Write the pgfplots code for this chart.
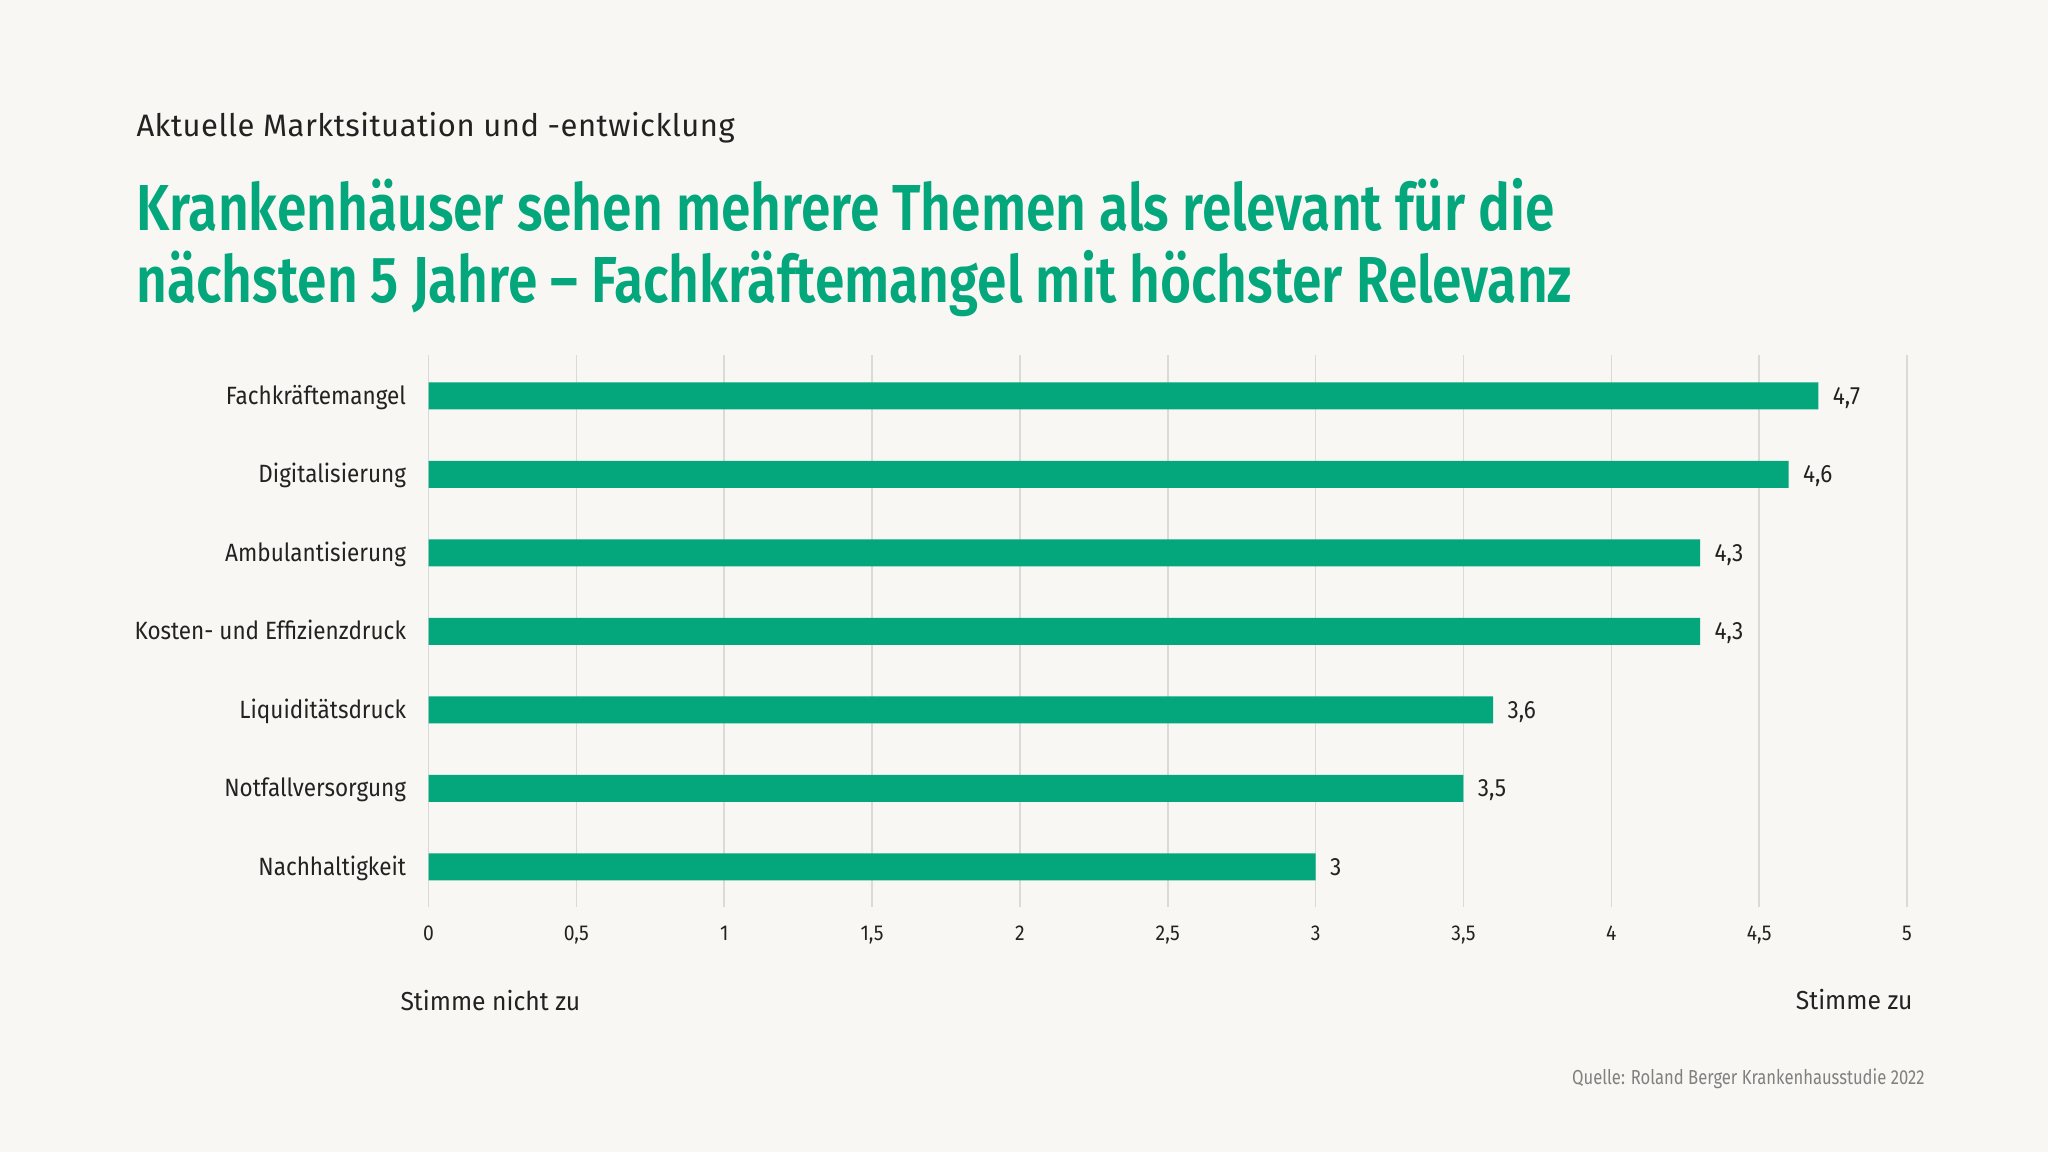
\documentclass[border=0pt]{standalone}
\usepackage{pgfplots}
\pgfplotsset{compat=1.18}
\usepackage{fontspec}
\setmainfont{Fira Sans}
\newfontfamily\titlefont{Fira Sans SemiBold}[FakeStretch=0.82]
\newfontfamily\condfont{Fira Sans}[FakeStretch=0.82]
\newfontfamily\labfont{Fira Sans}[FakeStretch=0.9]
\newfontfamily\subfont{Fira Sans}[LetterSpace=1.5]
\newfontfamily\endfont{Fira Sans}[FakeStretch=0.95]
\definecolor{bg}{HTML}{F8F7F3}
\definecolor{rbgreen}{HTML}{04A77C}
\definecolor{txt}{HTML}{222222}
\definecolor{gridc}{HTML}{DADADA}
\definecolor{src}{HTML}{808080}
\begin{document}
\begin{tikzpicture}[x=0.4pt,y=0.4pt]
\fill[bg] (0,0) rectangle (2048,1152);
\node[anchor=base west, font=\subfont\fontsize{12.4}{14}\selectfont, text=txt, inner sep=0] at (136,1152-137) {Aktuelle Marktsituation und -entwicklung};
\node[anchor=base west, font=\titlefont\fontsize{26}{28}\selectfont, text=rbgreen, inner sep=0] at (136,1152-231) {Krankenhäuser sehen mehrere Themen als relevant für die};
\node[anchor=base west, font=\titlefont\fontsize{26}{28}\selectfont, text=rbgreen, inner sep=0] at (136,1152-303) {nächsten 5 Jahre – Fachkräftemangel mit höchster Relevanz};
\begin{axis}[
  at={(171.4pt,98pt)}, anchor=south west,
  scale only axis, width=591.4pt, height=220.8pt,
  xmin=0, xmax=5, ymin=0.49, ymax=7.52,
  xbar, bar width=10.8pt, bar shift=0pt,
  axis line style={draw=none},
  xtick={0,0.5,1,1.5,2,2.5,3,3.5,4,4.5,5},
  ytick={1,2,3,4,5,6,7},
  yticklabels={Nachhaltigkeit,Notfallversorgung,Liquiditätsdruck,Kosten- und Effizienzdruck,Ambulantisierung,Digitalisierung,Fachkräftemangel},
  major tick length=0pt,
  xmajorgrids, grid style={gridc, line width=0.6pt},
  /pgf/number format/use comma,
  /pgf/number format/assume math mode=true,
  tick label style={text=txt, inner sep=0pt},
  xticklabel style={font=\labfont\fontsize{8.6}{10}\selectfont, anchor=base, yshift=-13.6pt},
  yticklabel style={font=\labfont\fontsize{10}{11}\selectfont, anchor=base east, xshift=-8.8pt, yshift=-3.4pt},
  nodes near coords,
  point meta=x,
  every node near coord/.append style={font=\labfont\fontsize{10}{11}\selectfont, text=txt, anchor=base west, inner sep=0pt, xshift=5.6pt, yshift=-3.4pt, /pgf/number format/use comma},
  clip=false,
]
\addplot[fill=rbgreen, draw=none] coordinates {
(3,1) (3.5,2) (3.6,3) (4.3,4) (4.3,5) (4.6,6) (4.7,7)
};
\end{axis}
\node[anchor=base west, font=\endfont\fontsize{10.4}{12}\selectfont, text=txt, inner sep=0] at (400,1152-1011) {Stimme nicht zu};
\node[anchor=base east, font=\endfont\fontsize{10.4}{12}\selectfont, text=txt, inner sep=0] at (1913,1152-1010) {Stimme zu};
\node[anchor=base east, font=\condfont\fontsize{8.1}{10}\selectfont, text=src, inner sep=0] at (1925,1152-1085) {Quelle: Roland Berger Krankenhausstudie 2022};
\end{tikzpicture}
\end{document}
